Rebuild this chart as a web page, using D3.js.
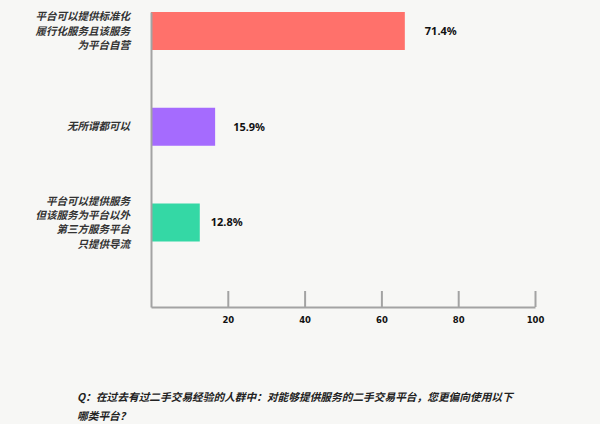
<!DOCTYPE html>
<html>
<head>
<meta charset="utf-8">
<script src="https://cdn.jsdelivr.net/npm/d3@7"></script>
<style>
  html, body { margin: 0; padding: 0; background: #f7f7f5; }
  svg { display: block; }
</style>
</head>
<body>
<svg id="chart"></svg>
<script>
// categories, one entry per bar, split into the lines shown in the picture
const categories = [
  ["平台可以提供标准化", "履行化服务且该服务", "为平台自营"],
  ["无所谓都可以"],
  ["平台可以提供服务", "但该服务为平台以外", "第三方服务平台", "只提供导流"]
];
// bar lengths as drawn in the picture, and the printed labels
const barValues = [66.1, 16.7, 12.7];
const valueLabels = ["71.4%", "15.9%", "12.8%"];
const labelGaps = [20, 18, 11];
const colors = ["#ff716b", "#a56bfe", "#34d8a5"];
const tickValues = [20, 40, 60, 80, 100];
const questionLines = [
  "Q：在过去有过二手交易经验的人群中：对能够提供服务的二手交易平台，您更偏向使用以下",
  "哪类平台？"
];

const width = 600;
const height = 424;

const svg = d3.select("#chart")
  .attr("width", width)
  .attr("height", height);

const x = d3.scaleLinear()
  .domain([0, 100])
  .range([151, 535]);

const y = d3.scalePoint()
  .domain(d3.range(categories.length))
  .range([31, 222.5]);

const barH = 38;
const baseY = 307;

// bars
svg.selectAll("rect.bar")
  .data(barValues)
  .enter()
  .append("rect")
  .attr("class", "bar")
  .attr("x", x(0))
  .attr("y", (d, i) => y(i) - barH / 2)
  .attr("width", d => x(d) - x(0))
  .attr("height", barH)
  .style("fill", (d, i) => colors[i]);

// value labels
svg.selectAll("text.value")
  .data(valueLabels)
  .enter()
  .append("text")
  .attr("class", "value")
  .attr("x", (d, i) => x(barValues[i]) + labelGaps[i])
  .attr("y", (d, i) => y(i))
  .attr("dy", "0.35em")
  .style("font-family", "'Noto Sans', 'Liberation Sans', sans-serif")
  .style("font-weight", "bold")
  .style("font-size", "11px")
  .style("fill", "#111");
svg.selectAll("text.value").text(d => d);

// category labels
const lineH = 14.4;
const cat = svg.selectAll("text.cat")
  .data(categories)
  .enter()
  .append("text")
  .attr("class", "cat")
  .attr("text-anchor", "end")
  .style("font-family", "'Noto Sans CJK SC', sans-serif")
  .style("font-style", "italic")
  .style("font-weight", "bold")
  .style("font-size", "10.5px")
  .style("fill", "#333");

cat.selectAll("tspan")
  .data((d, i) => d.map((t, j) => ({ t: t, j: j, n: d.length, i: i })))
  .enter()
  .append("tspan")
  .attr("x", 130)
  .attr("y", d => y(d.i) + (d.j - (d.n - 1) / 2) * lineH)
  .attr("dy", "0.35em")
  .text(d => d.t);

// x axis
const xAxis = d3.axisBottom(x)
  .tickValues(tickValues)
  .tickSizeInner(-16)
  .tickSizeOuter(0)
  .tickPadding(10);

const gx = svg.append("g")
  .attr("transform", `translate(0, ${baseY})`)
  .call(xAxis);

gx.select(".domain").attr("stroke", "#a3a3a3").attr("stroke-width", 2);
gx.selectAll(".tick line").attr("stroke", "#a3a3a3").attr("stroke-width", 2);
gx.selectAll(".tick text")
  .style("font-family", "'DejaVu Sans', sans-serif")
  .style("font-weight", "bold")
  .style("font-size", "8.5px")
  .style("fill", "#111");

// y axis line
const yLine = d3.scaleLinear().domain([0, 1]).range([baseY, 12]);
const gy = svg.append("g")
  .attr("transform", `translate(${x(0)}, 0)`)
  .call(d3.axisLeft(yLine).tickValues([]).tickSizeOuter(0));
gy.select(".domain").attr("stroke", "#a3a3a3").attr("stroke-width", 2);

// question text
svg.append("g")
  .selectAll("text")
  .data(questionLines)
  .enter()
  .append("text")
  .attr("x", 77)
  .attr("y", (d, i) => 397 + i * 19)
  .attr("dy", "0.35em")
  .style("font-family", "'Noto Sans CJK SC', sans-serif")
  .style("font-style", "italic")
  .style("font-weight", "bold")
  .style("font-size", "10.7px")
  .style("fill", "#222")
  .text(d => d);
</script>
</body>
</html>
